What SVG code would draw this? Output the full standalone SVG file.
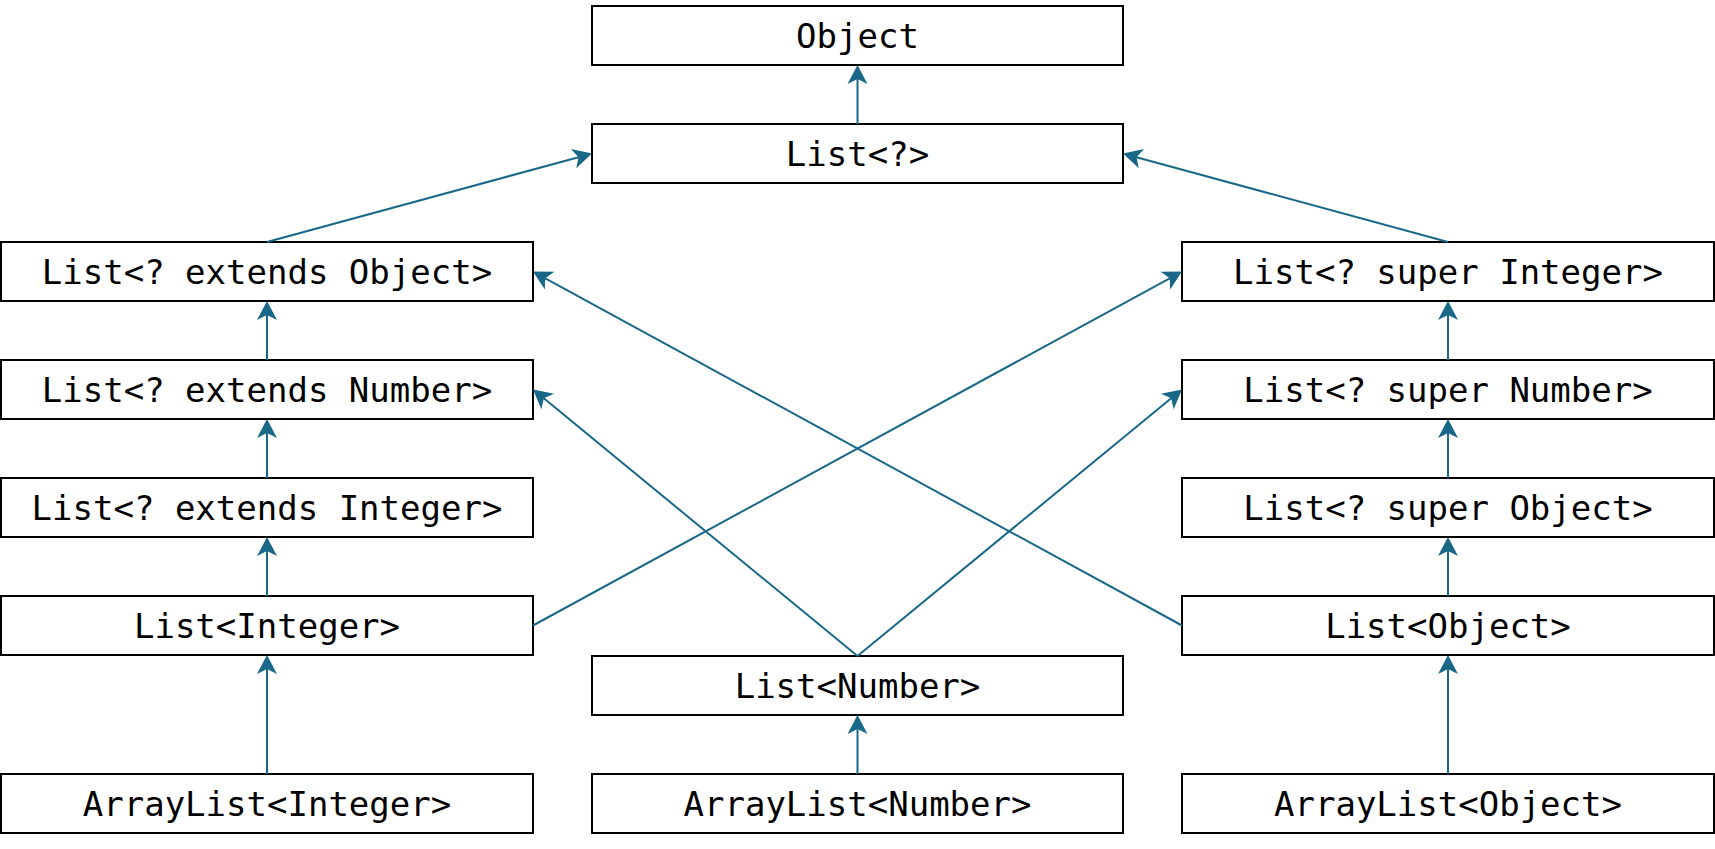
<svg xmlns="http://www.w3.org/2000/svg" width="1715" height="849" viewBox="0 0 1715 849">
<style>
.box{fill:#ffffff;stroke:#000000;stroke-width:2}
.lbl{font-family:"DejaVu Sans Mono","Liberation Mono",monospace;font-size:34px;fill:#000000;text-anchor:middle}
.edge{stroke:#1a6888;stroke-width:2;fill:none;marker-end:url(#arr)}
</style>
<defs>
<marker id="arr" markerUnits="userSpaceOnUse" markerWidth="20" markerHeight="22" refX="7" refY="10" orient="auto" viewBox="0 0 20 20" overflow="visible">
<path d="M0,0 L19,10 L0,20 L5,10 Z" fill="#1a6888"/>
</marker>
</defs>
<rect width="1715" height="849" fill="#ffffff"/>
<g id="nodes">
<g id="n-object"><rect class="box" x="592" y="6" width="531" height="59"/><text class="lbl" x="857.5" y="48">Object</text></g>
<g id="n-list-wild"><rect class="box" x="592" y="124" width="531" height="59"/><text class="lbl" x="857.5" y="166">List&lt;?&gt;</text></g>
<g id="n-ext-object"><rect class="box" x="1" y="242" width="532" height="59"/><text class="lbl" x="267" y="284">List&lt;? extends Object&gt;</text></g>
<g id="n-ext-number"><rect class="box" x="1" y="360" width="532" height="59"/><text class="lbl" x="267" y="402">List&lt;? extends Number&gt;</text></g>
<g id="n-ext-integer"><rect class="box" x="1" y="478" width="532" height="59"/><text class="lbl" x="267" y="520">List&lt;? extends Integer&gt;</text></g>
<g id="n-list-integer"><rect class="box" x="1" y="596" width="532" height="59"/><text class="lbl" x="267" y="638">List&lt;Integer&gt;</text></g>
<g id="n-arraylist-integer"><rect class="box" x="1" y="774" width="532" height="59"/><text class="lbl" x="267" y="816">ArrayList&lt;Integer&gt;</text></g>
<g id="n-list-number"><rect class="box" x="592" y="656" width="531" height="59"/><text class="lbl" x="857.5" y="698">List&lt;Number&gt;</text></g>
<g id="n-arraylist-number"><rect class="box" x="592" y="774" width="531" height="59"/><text class="lbl" x="857.5" y="816">ArrayList&lt;Number&gt;</text></g>
<g id="n-sup-integer"><rect class="box" x="1182" y="242" width="532" height="59"/><text class="lbl" x="1448" y="284">List&lt;? super Integer&gt;</text></g>
<g id="n-sup-number"><rect class="box" x="1182" y="360" width="532" height="59"/><text class="lbl" x="1448" y="402">List&lt;? super Number&gt;</text></g>
<g id="n-sup-object"><rect class="box" x="1182" y="478" width="532" height="59"/><text class="lbl" x="1448" y="520">List&lt;? super Object&gt;</text></g>
<g id="n-list-object"><rect class="box" x="1182" y="596" width="532" height="59"/><text class="lbl" x="1448" y="638">List&lt;Object&gt;</text></g>
<g id="n-arraylist-object"><rect class="box" x="1182" y="774" width="532" height="59"/><text class="lbl" x="1448" y="816">ArrayList&lt;Object&gt;</text></g>
</g>
<g id="connectors">
<line class="edge" x1="857.5" y1="124" x2="857.5" y2="77"/>
<line class="edge" x1="267" y1="242" x2="580.4" y2="156.7"/>
<line class="edge" x1="1448" y1="242" x2="1134.6" y2="156.7"/>
<line class="edge" x1="267" y1="360" x2="267" y2="313"/>
<line class="edge" x1="267" y1="478" x2="267" y2="431"/>
<line class="edge" x1="267" y1="596" x2="267" y2="549"/>
<line class="edge" x1="267" y1="774" x2="267" y2="667"/>
<line class="edge" x1="1448" y1="360" x2="1448" y2="313"/>
<line class="edge" x1="1448" y1="478" x2="1448" y2="431"/>
<line class="edge" x1="1448" y1="596" x2="1448" y2="549"/>
<line class="edge" x1="1448" y1="774" x2="1448" y2="667"/>
<line class="edge" x1="857.5" y1="774" x2="857.5" y2="727"/>
<line class="edge" x1="533" y1="625.5" x2="1171.5" y2="277.3"/>
<line class="edge" x1="1182" y1="625.5" x2="543.5" y2="277.3"/>
<line class="edge" x1="857.5" y1="656" x2="542.3" y2="397.1"/>
<line class="edge" x1="857.5" y1="656" x2="1172.7" y2="397.1"/>
</g>
</svg>
